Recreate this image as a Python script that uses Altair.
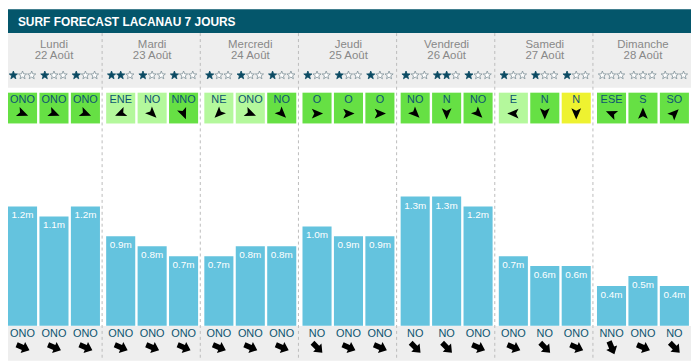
import math
import altair as alt
import pandas as pd

# ---------------- data ----------------
TITLE = "SURF FORECAST LACANAU 7 JOURS"
day_names = ["Lundi", "Mardi", "Mercredi", "Jeudi", "Vendredi", "Samedi", "Dimanche"]
day_dates = ["22 Août", "23 Août", "24 Août", "25 Août", "26 Août", "27 Août", "28 Août"]

stars = [1, 1, 1, 2, 1, 1, 1, 1, 1, 1, 1, 1, 1, 2, 1, 1, 1, 1, 0, 0, 0]
wind_dir = ["ONO", "ONO", "ONO", "ENE", "NO", "NNO", "NE", "ONO", "NO", "O", "O", "O",
            "NO", "N", "NO", "E", "N", "N", "ESE", "S", "SO"]
wind_level = ["g", "g", "g", "l", "l", "g", "l", "l", "g", "g", "g", "g",
              "g", "g", "g", "l", "g", "y", "g", "g", "g"]
wave_height = [1.2, 1.1, 1.2, 0.9, 0.8, 0.7, 0.7, 0.8, 0.8, 1.0, 0.9, 0.9,
               1.3, 1.3, 1.2, 0.7, 0.6, 0.6, 0.4, 0.5, 0.4]
swell_dir = ["ONO", "ONO", "ONO", "ONO", "ONO", "ONO", "ONO", "ONO", "ONO", "NO", "ONO", "ONO",
             "NO", "NO", "ONO", "ONO", "NO", "ONO", "NNO", "ONO", "NO"]

# ---------------- layout / style ----------------
W, H = 688, 354
X0, X1 = 3, 696          # horizontal extent (layout units)
DAY_STEP, SLOT_STEP, BOX_W = 99.6, 31.9, 29.5
FONT = "Liberation Sans"
HEAD = "#04566b"
GREY = "#eeeeee"
TXT = "#0d5570"
BAR = "#64c3de"

COMPASS = {"N": 0, "NNE": 22.5, "NE": 45, "ENE": 67.5, "E": 90, "ESE": 112.5, "SE": 135,
           "SSE": 157.5, "S": 180, "SSO": 202.5, "SO": 225, "OSO": 247.5, "O": 270,
           "ONO": 292.5, "NO": 315, "NNO": 337.5}

rows = []
for i in range(21):
    d, s = divmod(i, 3)
    left = X0 + d * DAY_STEP + s * SLOT_STEP
    rows.append({
        "day": d, "slot": s, "left": left, "right": left + BOX_W, "center": left + BOX_W / 2,
        "wind": wind_dir[i], "level": wind_level[i], "height": wave_height[i],
        "label": f"{wave_height[i]:.1f}m", "swell": swell_dir[i],
        "wang": (COMPASS[wind_dir[i]] + 180) % 360,
        "sang": (COMPASS[swell_dir[i]] + 180) % 360,
    })
slots = pd.DataFrame(rows)

days = pd.DataFrame({
    "name": day_names, "date": day_dates,
    "center": [X0 + d * DAY_STEP + (2 * SLOT_STEP + BOX_W) / 2 for d in range(7)],
    "sep": [X0 + d * DAY_STEP + 95.5 for d in range(7)],
    "day": list(range(7)),
})

star_rows = []
for i, r in enumerate(rows):
    for k in range(3):
        star_rows.append({"x": r["center"] + (k - 1) * 9.3, "kind": "f" if k < stars[i] else "e"})
star_df = pd.DataFrame(star_rows)

one = pd.DataFrame({"k": [0]})

xs = alt.Scale(domain=[X0, X1], nice=False, zero=False)
ys = alt.Scale(domain=[-0.353, 3.187], nice=False, zero=False)

pts = []
for j in range(10):
    a = math.radians(-90 + 36 * j)
    r = 1.0 if j % 2 == 0 else 0.42
    pts.append(f"{r * math.cos(a):.3f},{r * math.sin(a):.3f}")
STAR = "M" + "L".join(pts) + "Z"
DART = "M0,-1L0.8,0.85L0,0.45L-0.8,0.85Z"
BLOCK = "M0,-1L0.78,-0.05L0.36,-0.05L0.36,0.85L-0.36,0.85L-0.36,-0.05L-0.78,-0.05Z"

base1 = alt.Chart(one)
header = base1.mark_rect(color=HEAD).encode(
    x=alt.value(0), x2=alt.value(W), y=alt.value(0), y2=alt.value(24))
title = base1.mark_text(align="left", baseline="middle", color="white", font=FONT,
                        fontSize=12, fontWeight="bold").encode(
    x=alt.value(10), y=alt.value(12.5), text=alt.value(TITLE))
band = base1.mark_rect(color=GREY).encode(
    x=alt.value(0), x2=alt.value(W), y=alt.value(24), y2=alt.value(79))
strip = base1.mark_rect(color=GREY).encode(
    x=alt.value(0), x2=alt.value(W), y=alt.value(319), y2=alt.value(354))

dbase = alt.Chart(days)
seps = dbase.transform_filter("datum.day < 6").mark_rule(
    color="#bbbbbb", strokeDash=[3, 3], strokeWidth=1).encode(
    x=alt.X("sep:Q", scale=xs, axis=None), y=alt.value(24), y2=alt.value(354))
dname = dbase.mark_text(color="#888888", font=FONT, fontSize=11.5, baseline="middle").encode(
    x=alt.X("center:Q", scale=xs, axis=None), y=alt.value(35.5), text="name:N")
ddate = dbase.mark_text(color="#888888", font=FONT, fontSize=11.5, baseline="middle").encode(
    x=alt.X("center:Q", scale=xs, axis=None), y=alt.value(47), text="date:N")

star_layer = alt.Chart(star_df).mark_point(shape=STAR, filled=True, size=75,
                                           strokeWidth=0.8, opacity=1).encode(
    x=alt.X("x:Q", scale=xs, axis=None), y=alt.value(66.5),
    fill=alt.Fill("kind:N", scale=alt.Scale(domain=["f", "e"], range=["#0b4a63", "#ffffff"]), legend=None),
    stroke=alt.Stroke("kind:N", scale=alt.Scale(domain=["f", "e"], range=["#0b4a63", "#7f9199"]), legend=None),
)

sbase = alt.Chart(slots)
wbox = sbase.mark_rect().encode(
    x=alt.X("left:Q", scale=xs, axis=None), x2="right:Q",
    y=alt.value(84), y2=alt.value(115),
    color=alt.Color("level:N", scale=alt.Scale(domain=["g", "l", "y"],
                                               range=["#66e044", "#b4f89c", "#eef230"]), legend=None))
wtext = sbase.mark_text(color=TXT, font=FONT, fontSize=11, baseline="middle").encode(
    x=alt.X("center:Q", scale=xs, axis=None), y=alt.value(91.5), text="wind:N")
warrow = sbase.mark_point(shape=DART, filled=True, size=150, color="black", opacity=1).encode(
    x=alt.X("center:Q", scale=xs, axis=None), y=alt.value(105),
    angle=alt.Angle("wang:Q", scale=None))

bars = sbase.mark_rect(color=BAR).encode(
    x=alt.X("left:Q", scale=xs, axis=None), x2="right:Q",
    y=alt.Y("height:Q", scale=ys, axis=None), y2=alt.datum(0))
blabel = sbase.mark_text(color="white", font=FONT, fontSize=10, baseline="middle", dy=9).encode(
    x=alt.X("center:Q", scale=xs, axis=None), y=alt.Y("height:Q", scale=ys, axis=None),
    text="label:N")
stext = sbase.mark_text(color=TXT, font=FONT, fontSize=11, baseline="middle").encode(
    x=alt.X("center:Q", scale=xs, axis=None), y=alt.value(327), text="swell:N")
sarrow = sbase.mark_point(shape=BLOCK, filled=True, size=230, color="black", opacity=1).encode(
    x=alt.X("center:Q", scale=xs, axis=None), y=alt.value(340.5),
    angle=alt.Angle("sang:Q", scale=None))

chart = alt.layer(header, title, band, strip, seps, dname, ddate, star_layer,
                  wbox, wtext, warrow, bars, blabel, stext, sarrow).properties(
    width=W, height=H, padding=0, autosize=alt.AutoSizeParams(type="none")
).configure_view(stroke=None)

chart.save("out.html", embed_options={"renderer": "svg", "actions": False})
